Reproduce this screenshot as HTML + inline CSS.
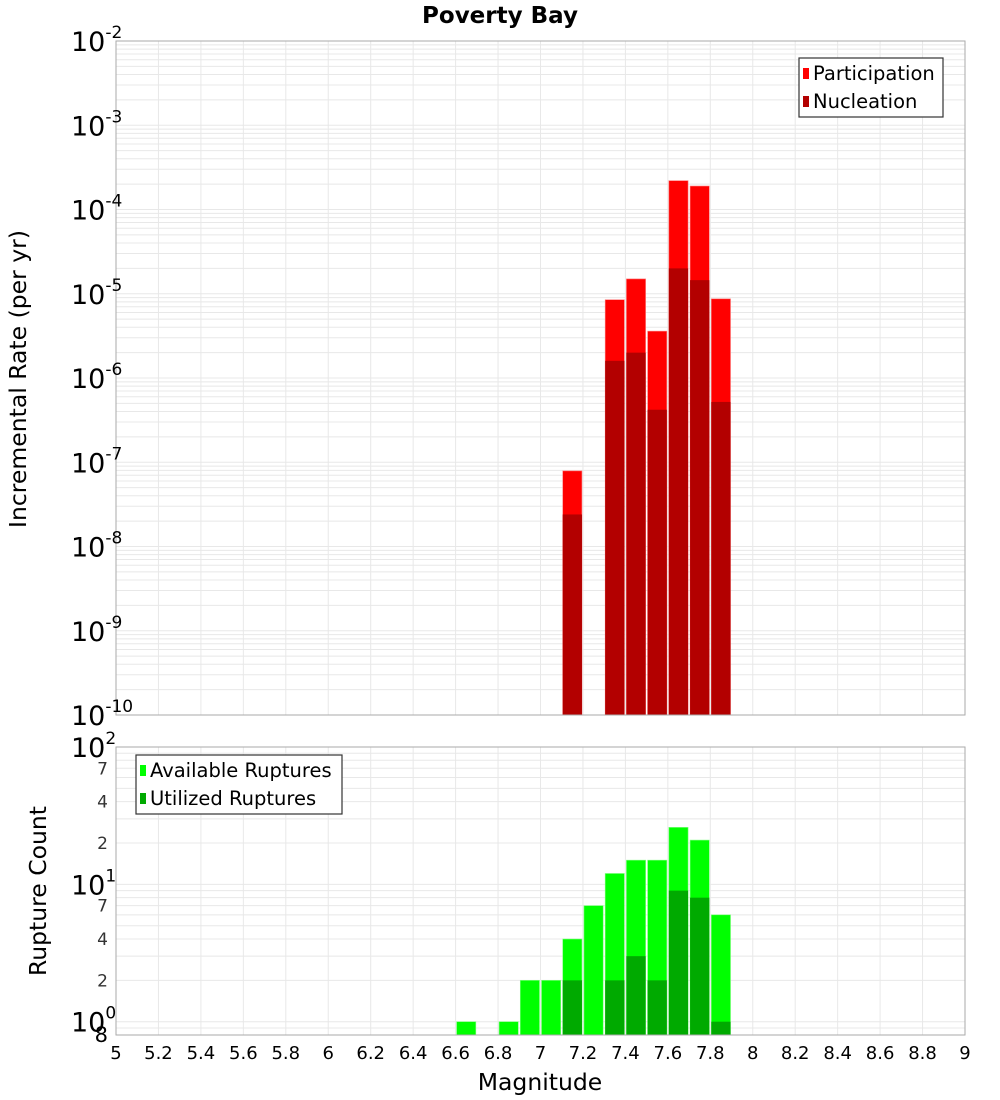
<!DOCTYPE html>
<html><head><meta charset="utf-8"><style>
html,body{margin:0;padding:0;background:#fff;}
svg{display:block;font-family:"DejaVu Sans","Liberation Sans",sans-serif;}
</style></head><body>
<svg id="c" width="1000" height="1100"></svg>
<script>
const mags=[7.15,7.35,7.45,7.55,7.65,7.75,7.85];
const participation=[7.9e-8,8.5e-6,1.5e-5,3.6e-6,2.2e-4,1.9e-4,8.7e-6];
const nucleation=[2.4e-8,1.6e-6,2.0e-6,4.2e-7,2.0e-5,1.45e-5,5.2e-7];
const countMags=[6.65,6.85,6.95,7.05,7.15,7.25,7.35,7.45,7.55,7.65,7.75,7.85];
const available=[1,1,2,2,4,7,12,15,15,26,21,6];
const utilized=[0,0,0,0,2,0,2,3,2,9,8,1];
const xTicks=[5,5.2,5.4,5.6,5.8,6,6.2,6.4,6.6,6.8,7,7.2,7.4,7.6,7.8,8,8.2,8.4,8.6,8.8,9];
const topExps=[-2,-3,-4,-5,-6,-7,-8,-9,-10];

const NS="http://www.w3.org/2000/svg";
const svg=document.getElementById('c');
function el(t,a,p){const e=document.createElementNS(NS,t);for(const k in a)e.setAttribute(k,a[k]);(p||svg).appendChild(e);return e;}
const X0=116,X1=965;
const xs=m=>X0+(m-5)/4*(X1-X0);
const T0=41,T1=715;
const yTop=v=>T0+(-2-Math.log10(v))*(T1-T0)/8;
const B0=747,B1=1035,BMIN=0.8;
const yBot=v=>B0+(2-Math.log10(v))*(B1-B0)/(2-Math.log10(BMIN));

const t=el('text',{x:500,y:23,'text-anchor':'middle','font-size':23,'font-weight':'bold',fill:'#000'});t.textContent='Poverty Bay';


function grid(y0,y1,minV,maxV,yf,name){
  const g=el('g',{});
  
  
  for(let e=Math.floor(Math.log10(minV));e<=Math.log10(maxV);e++){
    for(let k=1;k<10;k++){const v=k*Math.pow(10,e);if(v<minV||v>maxV)continue;const y=yf(v);
      el('line',{x1:X0,x2:X1,y1:y,y2:y,stroke:'#e8e8e8','stroke-width':1},g);}
  }
  xTicks.forEach(m=>{const x=xs(m);el('line',{x1:x,x2:x,y1:y0,y2:y1,stroke:'#e8e8e8','stroke-width':1},g);});
}
grid(T0,T1,1e-10,1e-2,yTop,'top-grid');
grid(B0,B1,BMIN,100,yBot,'bottom-grid');

const bw=(xs(5.1)-xs(5))-2;
mags.forEach((m,i)=>{
  const x=xs(m-0.05)+1;
  const r=el('rect',{x:x,y:yTop(participation[i]),width:bw,height:T1-yTop(participation[i]),fill:'#ff0000',stroke:'#ff8080','stroke-width':0.6});
  
  const n=el('rect',{x:x,y:yTop(nucleation[i]),width:bw,height:T1-yTop(nucleation[i]),fill:'#b30000'});
  
});
countMags.forEach((m,i)=>{
  const x=xs(m-0.05)+1;
  const a=el('rect',{x:x,y:yBot(available[i]),width:bw,height:B1-yBot(available[i]),fill:'#00ff00',stroke:'#80ff80','stroke-width':0.6});
  
  if(utilized[i]>0){const u=el('rect',{x:x,y:yBot(utilized[i]),width:bw,height:B1-yBot(utilized[i]),fill:'#00aa00'});
  }
});

const f1=el('rect',{x:X0,y:T0,width:X1-X0,height:T1-T0,fill:'none',stroke:'#aaa','stroke-width':1});

const f2=el('rect',{x:X0,y:B0,width:X1-X0,height:B1-B0,fill:'none',stroke:'#aaa','stroke-width':1});


topExps.forEach(e=>{
  const y=yTop(Math.pow(10,e));
  const tx=el('text',{x:71,y:y+10,'font-size':27,fill:'#000'});
  
  tx.textContent='10';
  const s=el('tspan',{dy:-13,'font-size':17},tx);s.textContent=String(e);
});
[[100,'2'],[10,'1'],[1,'0']].forEach(([v,e])=>{
  const y=yBot(v);
  const tx=el('text',{x:71,y:y+10,'font-size':27,fill:'#000'});
  
  tx.textContent='10';
  const s=el('tspan',{dy:-13,'font-size':17},tx);s.textContent=e;
});
[[70,'7'],[40,'4'],[20,'2'],[7,'7'],[4,'4'],[2,'2']].forEach(([v,l])=>{
  const tx=el('text',{x:108,y:yBot(v)+6,'font-size':17,'text-anchor':'end',fill:'#333'});
  
  tx.textContent=l;
});
const e8=el('text',{x:108,y:1042,'font-size':21,'text-anchor':'end',fill:'#000'});e8.textContent='8';


xTicks.forEach(m=>{
  const tx=el('text',{x:xs(m),y:1059,'font-size':18,'text-anchor':'middle',fill:'#000'});
  
  tx.textContent=String(m);
});
const xt=el('text',{x:540,y:1090,'font-size':23.5,'text-anchor':'middle',fill:'#000'});xt.textContent='Magnitude';

const yt1=el('text',{x:0,y:0,'font-size':23.5,'text-anchor':'middle',fill:'#000',transform:'translate(26,379) rotate(-90)'});yt1.textContent='Incremental Rate (per yr)';

const yt2=el('text',{x:0,y:0,'font-size':23.5,'text-anchor':'middle',fill:'#000',transform:'translate(46,891) rotate(-90)'});yt2.textContent='Rupture Count';


function legend(x,y,w,items,name){
  const g=el('g',{});
  
  el('rect',{x:x,y:y,width:w,height:59,fill:'#fff',stroke:'#333','stroke-width':1.2},g);
  items.forEach(([c,l],i)=>{
    el('rect',{x:x+4,y:y+10+i*28,width:6,height:11,fill:c},g);
    const tx=el('text',{x:x+14,y:y+22+i*28,'font-size':19.5,fill:'#000'},g);tx.textContent=l;
  });
}
legend(799,58,144,[['#ff0000','Participation'],['#b30000','Nucleation']],'top-legend');
legend(136,755,206,[['#00ff00','Available Ruptures'],['#00aa00','Utilized Ruptures']],'bottom-legend');
</script>
</body></html>
